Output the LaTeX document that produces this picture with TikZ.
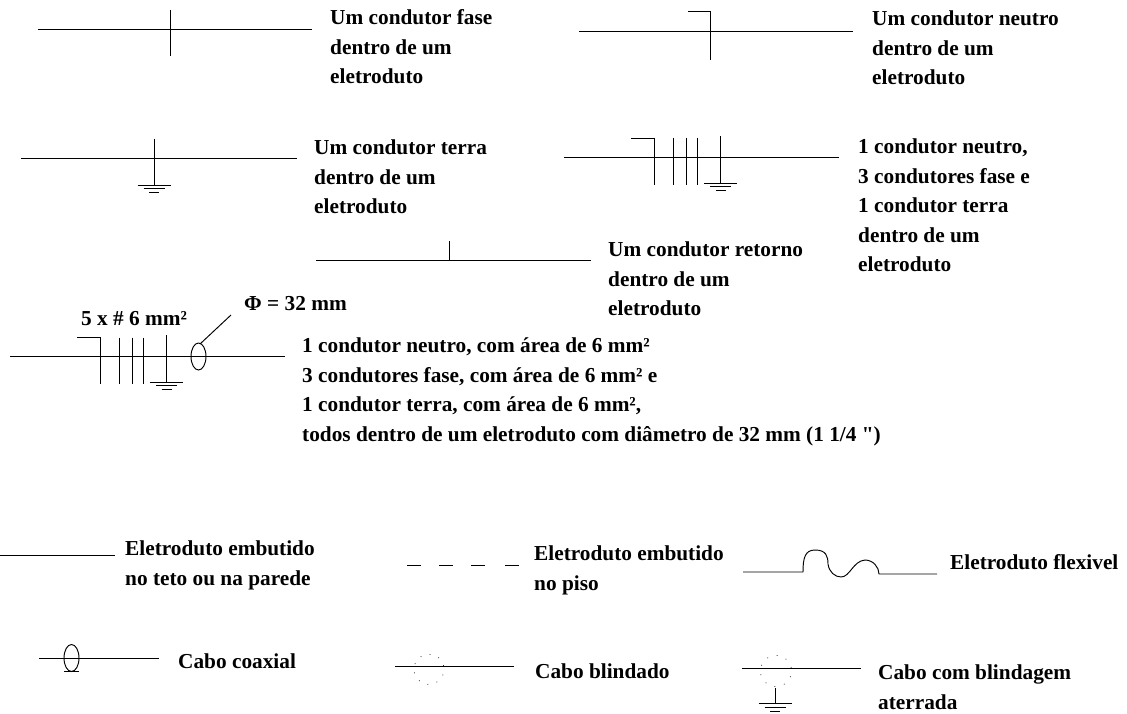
\documentclass[tikz,border=0pt]{standalone}
\usepackage{fontspec}
\setmainfont{Liberation Serif}
\newfontfamily\rawserif{Liberation Serif}
\tikzset{
  x=1pt,y=-1pt,
  lbl/.style={anchor=north west,inner sep=0pt,align=left,font=\fontsize{21.3}{29.5}\selectfont\bfseries},
  wire/.style={draw=black,line width=0.95pt}
}
\newcommand{\gnd}[2]{%
  \draw[wire] (#1-16.5,#2) -- (#1+16.5,#2);
  \draw[wire] (#1-10.5,#2+3.8) -- (#1+10.5,#2+3.8);
  \draw[wire] (#1-5,#2+7.5) -- (#1+5,#2+7.5);}
\newcommand{\dotcirc}[3]{%
  \foreach \a in {-14,-50,-86,-122,-158,-194,-230,-266,-302,-338}{\fill (#1+#3*cos \a,#2+#3*sin \a) circle (0.5pt);}}
\begin{document}
\begin{tikzpicture}
\useasboundingbox (0,0) rectangle (1127,713);
% 1
\draw[wire] (38,29) -- (312,29);
\draw[wire] (170,10) -- (170,56);
\node[lbl] (t1) at (330,9.6) {Um condutor fase\\dentro de um\\eletroduto};
% 2
\draw[wire] (579,31) -- (853,31);
\draw[wire] (688,11) -- (710,11) -- (710,60);
\node[lbl] (t2) at (872,11) {Um condutor neutro\\dentro de um\\eletroduto};
% 3
\draw[wire] (21,158) -- (297,158);
\draw[wire] (154,139) -- (154,185);
\gnd{154}{185}
\node[lbl] (t3) at (314,139.6) {Um condutor terra\\dentro de um\\eletroduto};
% 4
\draw[wire] (564,157) -- (839,157);
\draw[wire] (631,138) -- (654,138) -- (654,185);
\foreach \x in {673,686.5,697}{\draw[wire] (\x,138) -- (\x,185);}
\draw[wire] (720,136) -- (720,183);
\gnd{720.5}{183}
\node[lbl] (t4) at (858,138.6) {1 condutor neutro,\\3 condutores fase e\\1 condutor terra\\dentro de um\\eletroduto};
% 5
\draw[wire] (316,260) -- (591,260);
\draw[wire] (449,241) -- (449,260);
\node[lbl] (t5) at (608,242) {Um condutor retorno\\dentro de um\\eletroduto};
% 6
\draw[wire] (10,356) -- (285,356);
\draw[wire] (77,337) -- (100,337) -- (100,384);
\foreach \x in {119,132,143}{\draw[wire] (\x,337.5) -- (\x,384);}
\draw[wire] (166,335) -- (166,382);
\gnd{166.5}{382}
\draw[wire] (198.5,356.5) ellipse [x radius=7.5,y radius=13.5];
\coordinate (e6) at (200,344);
\coordinate (l6) at (231,315);
\draw[wire] (e6) -- (l6);
\node[lbl] (t6a) at (81,311) {5 x \# 6 mm²};
\node[lbl] (t6b) at (244,296.5) {Φ = 32 mm};
\node[lbl] (t6) at (302,337.6) {1 condutor neutro, com área de 6 mm²\\3 condutores fase, com área de 6 mm² e\\1 condutor terra, com área de 6 mm²,\\todos dentro de um eletroduto com diâmetro de 32 mm (1 1/4 {\rawserif\bfseries "})};
% 7
\draw[wire] (0,555) -- (115,555);
\node[lbl] (t7) at (125,541) {Eletroduto embutido\\no teto ou na parede};
% 8
\foreach \x in {407,439,471,505}{\draw[wire] (\x,565) -- (\x+14,565);}
\node[lbl] (t8) at (534,546) {Eletroduto embutido\\no piso};
% 9
\draw[wire] (743,572) -- (803,572)
  .. controls (803,558) and (805,550) .. (815,550)
  .. controls (826,550) and (828,556) .. (828,564)
  .. controls (829,572) and (835,577) .. (841,577)
  .. controls (850,577) and (853,561) .. (865,560)
  .. controls (873,560) and (879,567) .. (879,574)
  -- (937,574);
\node[lbl] (t9) at (950,554) {Eletroduto flexivel};
% 10
\draw[wire] (39,658) -- (159,658);
\draw[wire] (71.5,658) ellipse [x radius=7.5,y radius=13.5];
\draw[wire] (64,671.5) -- (79,671.5);
\node[lbl] (t10) at (178,653.5) {Cabo coaxial};
% 11
\draw[wire] (395,666) -- (514,666);
\dotcirc{429}{669.3}{15}
\node[lbl] (t11) at (535,663.3) {Cabo blindado};
% 12
\draw[wire] (742,668) -- (861,668);
\dotcirc{776}{671}{15.5}
\draw[wire] (775,688) -- (775,703.5);
\gnd{775}{703.5}
\node[lbl] (t12) at (878,665) {Cabo com blindagem\\aterrada};
\end{tikzpicture}
\end{document}
